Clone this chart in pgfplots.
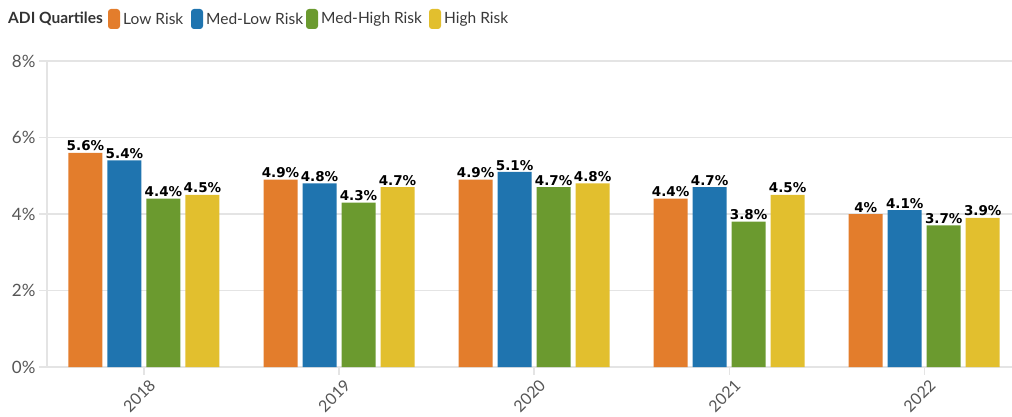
\documentclass[border=0pt]{standalone}
\usepackage{fontspec}
\setmainfont{Lato}
\newfontfamily\labelfont{DejaVu Sans}
\usepackage{pgfplots}
\pgfplotsset{compat=1.18}
\usepackage{pgfplotstable}

\definecolor{lowrisk}{HTML}{E37D2C}
\definecolor{medlow}{HTML}{1F74AF}
\definecolor{medhigh}{HTML}{6B9A2F}
\definecolor{highrisk}{HTML}{E2BF2E}
\definecolor{gridgray}{HTML}{E4E4E4}
\definecolor{ticktext}{HTML}{555555}

% Rates (%) by ADI quartile, one row per year
\pgfplotstableread{
x year low medlow medhigh high
0 2018 5.6 5.4 4.4 4.5
1 2019 4.9 4.8 4.3 4.7
2 2020 4.9 5.1 4.7 4.8
3 2021 4.4 4.7 3.8 4.5
4 2022 4.0 4.1 3.7 3.9
}\rates

\begin{document}
\begin{tikzpicture}
\useasboundingbox (0pt,0pt) rectangle (1012pt,416pt);

% legend row
\node[anchor=west, inner sep=0, text=black!80, font=\fontsize{15.5}{16}\selectfont\bfseries] at (8pt,397pt) {ADI Quartiles};
\foreach \c/\xx/\lab in {lowrisk/108/Low Risk, medlow/191/Med-Low Risk, medhigh/306/Med-High Risk, highrisk/429/High Risk}{
  \fill[\c, rounded corners=3pt] (\xx pt,387pt) rectangle ++(12pt,20pt);
  \node[anchor=west, inner sep=0, text=black!78, font=\fontsize{15.5}{16}\selectfont] at (\xx pt+15pt,397pt) {\lab};
}

\begin{axis}[
  at={(47pt,49pt)}, anchor=south west,
  scale only axis, width=965pt, height=306pt,
  xmin=-0.497, xmax=4.45, ymin=0, ymax=8,
  axis lines=left,
  axis line style={draw=gridgray, line width=1.2pt, -},
  ytick={0,2,4,6,8},
  yticklabel={\pgfmathprintnumber{\tick}\%},
  ymajorgrids, grid style={draw=gridgray, line width=1.2pt},
  xtick=data,
  xticklabels from table={\rates}{year},
  x tick label style={rotate=45, anchor=north east, font=\fontsize{16}{16}\selectfont, text=ticktext, xshift=4pt, yshift=-2pt},
  y tick label style={font=\fontsize{17}{17}\selectfont, text=ticktext},
  tick align=outside,
  major tick length=8pt,
  tick style={draw=gridgray, line width=1.2pt},
  /pgf/number format/assume math mode=true,
  ybar, bar width=34pt,
  every axis plot/.append style={draw=none},
  nodes near coords={\pgfmathprintnumber{\pgfplotspointmeta}\%},
  every node near coord/.append style={font=\labelfont\bfseries\fontsize{13.5}{14}\selectfont, text=black, inner sep=1.5pt},
  clip=false,
]
\addplot[fill=lowrisk, bar shift=-58.5pt] table[x=x, y=low] {\rates};
\addplot[fill=medlow, bar shift=-19.5pt] table[x=x, y=medlow] {\rates};
\addplot[fill=medhigh, bar shift=19.5pt] table[x=x, y=medhigh] {\rates};
\addplot[fill=highrisk, bar shift=58.5pt] table[x=x, y=high] {\rates};
\end{axis}
\end{tikzpicture}
\end{document}
